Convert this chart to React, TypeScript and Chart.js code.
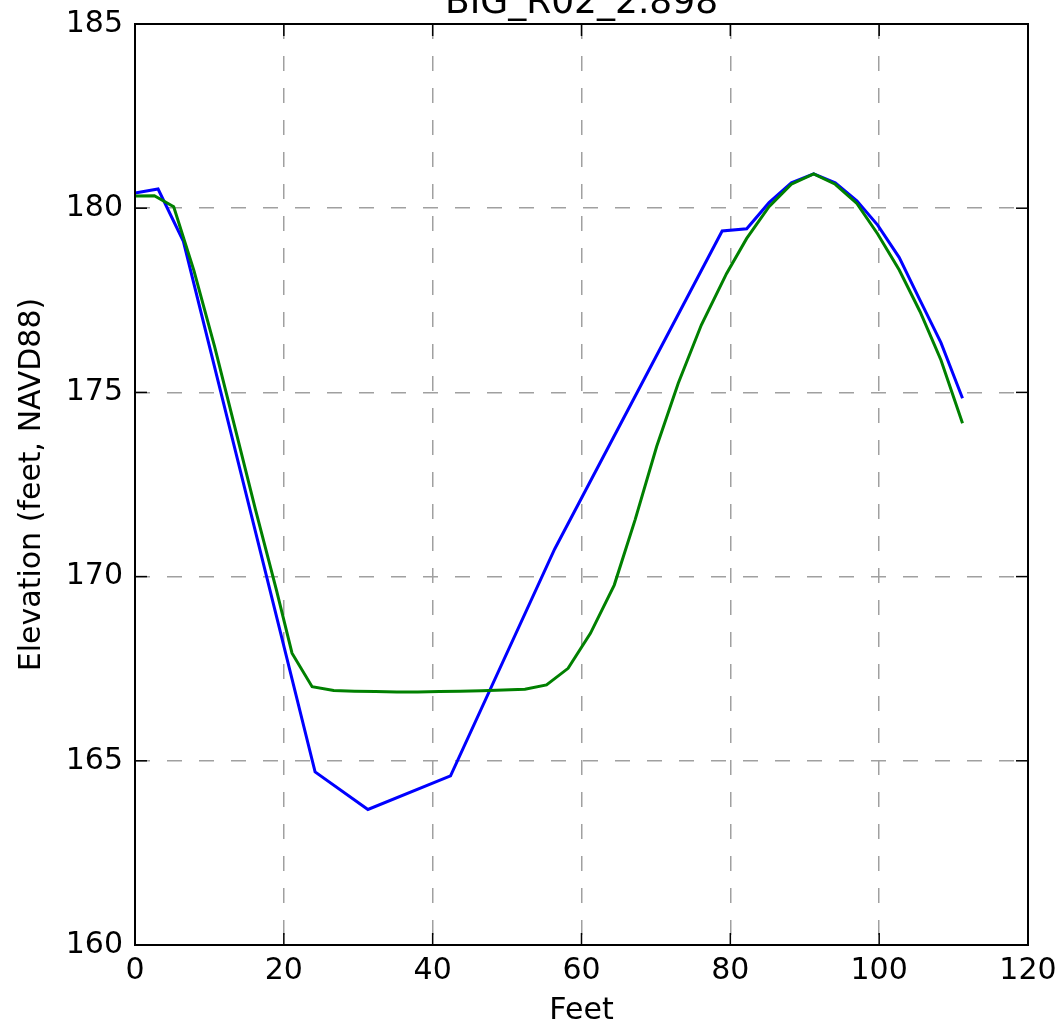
import React, { useEffect, useRef } from 'react';
import { Chart, registerables } from 'chart.js';

Chart.register(...registerables);

const TITLE = 'BIG_R02_2.898';
const X_LABEL = 'Feet';
const Y_LABEL = 'Elevation (feet, NAVD88)';

const X_TICKS = [0, 20, 40, 60, 80, 100, 120];
const Y_TICKS = [160, 165, 170, 175, 180, 185];

const blueX = [0, 3.1, 6.5, 24.2, 31.3, 42.4, 56.4, 78.9, 82.2, 85.2, 88.2, 91.2, 94.1, 97.0, 99.8, 102.7, 105.5, 108.3, 111.2];
const blueY = [180.41, 180.52, 179.1, 164.7, 163.68, 164.59, 170.75, 179.38, 179.44, 180.15, 180.69, 180.93, 180.69, 180.2, 179.54, 178.66, 177.5, 176.35, 174.84];

const greenX = [0, 2.6, 5.2, 7.9, 10.7, 13.4, 16.2, 19.0, 21.1, 23.8, 26.7, 29.5, 32.3, 35.2, 38.0, 40.9, 43.7, 46.6, 49.5, 52.4, 55.3, 58.2, 61.2, 64.4, 67.2, 70.1, 73.0, 76.1, 79.5, 82.2, 85.2, 88.2, 91.2, 94.1, 97.0, 99.8, 102.7, 105.5, 108.3, 111.2];
const greenY = [180.33, 180.34, 180.04, 178.32, 176.24, 174.07, 171.81, 169.64, 167.92, 167.01, 166.91, 166.89, 166.88, 166.87, 166.87, 166.88, 166.89, 166.9, 166.92, 166.94, 167.06, 167.51, 168.46, 169.77, 171.54, 173.53, 175.25, 176.83, 178.23, 179.18, 180.04, 180.65, 180.93, 180.65, 180.13, 179.3, 178.32, 177.19, 175.88, 174.16];

const FONT = "'DejaVu Sans', sans-serif";
const FONT_SIZE = 30;
const TITLE_SIZE = 36;

const toPoints = (xs: number[], ys: number[]) => xs.map((x, i) => ({ x, y: ys[i] }));

const zeroPad = (scale: any) => {
  scale.paddingTop = 0;
  scale.paddingBottom = 0;
  scale.paddingLeft = 0;
  scale.paddingRight = 0;
};

const framePlugin = {
  id: 'mplFrame',
  afterDraw(chart: any) {
    const { ctx, chartArea: a, scales } = chart;
    ctx.save();
    ctx.strokeStyle = '#000';
    ctx.lineWidth = 1.5;
    const L = 12;
    const seg = (x1: number, y1: number, x2: number, y2: number) => {
      ctx.beginPath();
      ctx.moveTo(x1, y1);
      ctx.lineTo(x2, y2);
      ctx.stroke();
    };
    for (const v of X_TICKS) {
      const px = scales.x.getPixelForValue(v);
      seg(px, a.top, px, a.top + L);
      seg(px, a.bottom, px, a.bottom - L);
    }
    for (const v of Y_TICKS) {
      const py = scales.y.getPixelForValue(v);
      seg(a.left, py, a.left + L, py);
      seg(a.right, py, a.right - L, py);
    }
    ctx.lineWidth = 2;
    ctx.strokeRect(a.left, a.top, a.right - a.left, a.bottom - a.top);
    ctx.fillStyle = '#000';
    ctx.font = `${TITLE_SIZE}px ${FONT}`;
    ctx.textAlign = 'center';
    ctx.textBaseline = 'alphabetic';
    ctx.fillText(TITLE, (a.left + a.right) / 2, 13);
    ctx.restore();
  },
};

export default function App() {
  const ref = useRef<HTMLCanvasElement | null>(null);

  useEffect(() => {
    if (!ref.current) return;
    const gridOpts = {
      display: true,
      color: '#a0a0a0',
      lineWidth: 1.5,
      drawTicks: false,
    };
    const chart = new Chart(ref.current, {
      type: 'line',
      data: {
        datasets: [
          {
            label: 'blue',
            data: toPoints(blueX, blueY),
            borderColor: '#0000ff',
            backgroundColor: '#0000ff',
            borderWidth: 3,
            pointRadius: 0,
            fill: false,
            tension: 0,
            order: 1,
          },
          {
            label: 'green',
            data: toPoints(greenX, greenY),
            borderColor: '#008000',
            backgroundColor: '#008000',
            borderWidth: 3,
            pointRadius: 0,
            fill: false,
            tension: 0,
            order: 0,
          },
        ],
      },
      options: {
        responsive: false,
        animation: false,
        devicePixelRatio: 1,
        layout: { padding: { top: 24, right: 35, left: 0, bottom: 0 } },
        plugins: {
          legend: { display: false },
          tooltip: { enabled: false },
          title: { display: false },
        },
        scales: {
          x: {
            type: 'linear',
            min: 0,
            max: 120,
            ticks: {
              stepSize: 20,
              color: '#000',
              font: { family: FONT, size: FONT_SIZE },
              padding: 8,
              maxRotation: 0,
            },
            grid: gridOpts,
            border: { display: false, dash: [15, 17] },
            title: {
              display: true,
              text: X_LABEL,
              color: '#000',
              font: { family: FONT, size: FONT_SIZE },
              padding: { top: 0, bottom: 4 },
            },
            afterFit(scale: any) {
              scale.height = 88;
              zeroPad(scale);
            },
          },
          y: {
            type: 'linear',
            min: 160,
            max: 185,
            ticks: {
              stepSize: 5,
              color: '#000',
              font: { family: FONT, size: FONT_SIZE },
              padding: 12,
            },
            grid: gridOpts,
            border: { display: false, dash: [15, 17] },
            title: {
              display: true,
              text: Y_LABEL,
              color: '#000',
              font: { family: FONT, size: FONT_SIZE },
              padding: { top: 14, bottom: 0 },
            },
            afterFit(scale: any) {
              scale.width = 135;
              zeroPad(scale);
            },
          },
        },
      },
      plugins: [framePlugin],
    } as any);
    return () => chart.destroy();
  }, []);

  return (
    <div style={{ position: 'absolute', left: 0, top: 0, width: 1063, height: 1033, background: '#fff' }}>
      <canvas ref={ref} width={1063} height={1033} style={{ display: 'block', width: 1063, height: 1033 }} />
    </div>
  );
}
